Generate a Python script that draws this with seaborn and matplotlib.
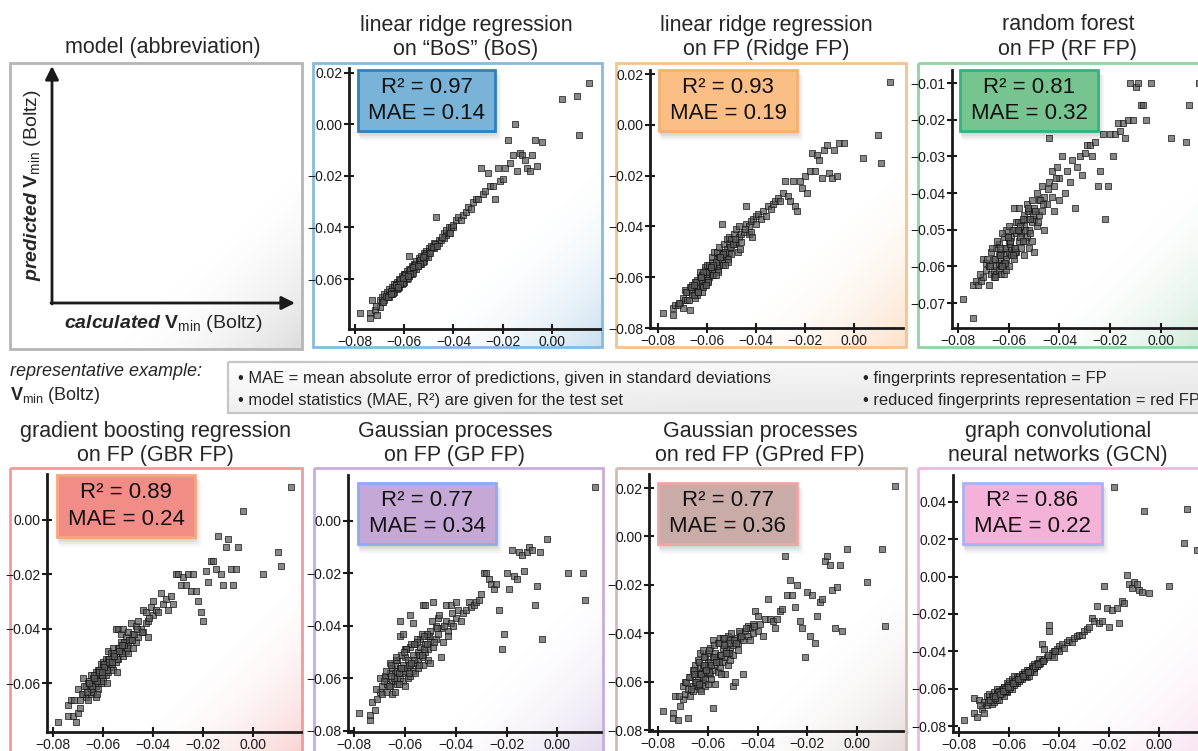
import numpy as np
import pandas as pd
import matplotlib
matplotlib.use("Agg")
import matplotlib.pyplot as plt
import matplotlib.patches as mpatches
from matplotlib.colors import to_rgb
import seaborn as sns

sns.set_theme(style="white")
plt.rcParams['font.family'] = ['Liberation Sans', 'DejaVu Sans']
plt.rcParams['mathtext.fontset'] = 'custom'
plt.rcParams['mathtext.rm'] = 'Liberation Sans'
plt.rcParams['mathtext.it'] = 'Liberation Sans:italic'
plt.rcParams['mathtext.bf'] = 'Liberation Sans:bold'
try:
    plt.rcParams['mathtext.bfit'] = 'Liberation Sans:bold:italic'
    BFIT = True
except KeyError:
    BFIT = False

# ---------------- data (values in units of 1e-3) ----------------
calc = [-78, -74, -74, -73, -72, -71, -70, -70, -69, -69,
        -68, -68, -67, -67, -66, -66, -66, -65, -65, -65,
        -64, -64, -64, -64, -63, -63, -63, -63, -62, -62,
        -62, -62, -61, -61, -61, -61, -60, -60, -60, -60,
        -59, -59, -59, -58, -58, -58, -58, -57, -57, -57,
        -56, -56, -56, -55, -55, -55, -54, -54, -54, -53,
        -53, -53, -52, -52, -52, -51, -51, -51, -50, -50,
        -50, -49, -49, -48, -48, -47, -47, -46, -46, -45,
        -44, -44, -43, -43, -42, -42, -41, -40, -40, -39,
        -38, -37, -36, -35, -34, -33, -32, -31, -30, -29,
        -28, -27, -26, -25, -24, -23, -22, -21, -20, -19,
        -18, -17, -16, -15, -14, -13, -12, -11, -10, -9,
        -8, -7, -6, -4, 4, 10, 11, 15,
        -71.5, -68.5, -67.5, -66.5, -65.5, -64.5, -63.5, -62.5, -61.5, -60.5,
        -59.5, -58.5, -57.5, -56.5, -55.5, -54.5, -53.5, -52.5, -51.5, -50.5,
        -65.5, -63.5, -61.5, -59.5, -57.5, -55.5, -53.5, -51.5, -49.5, -47.5,
        -62.5, -60.5, -58.5, -56.5, -54.5, -52.5, -48.5, -46.5, -44.5, -41.5]

pred_bos = [-73, -73, -75, -68, -72, -74, -71, -68, -69, -67,
            -68, -66, -67, -65, -66, -64, -67, -65, -63, -66,
            -64, -62, -65, -63, -63, -61, -64, -62, -62, -60,
            -63, -61, -61, -60, -62, -59, -60, -58, -61, -59,
            -59, -57, -60, -58, -56, -59, -51, -57, -55, -58,
            -56, -54, -55, -55, -53, -56, -54, -52, -53, -53,
            -51, -54, -52, -50, -53, -51, -49, -50, -50, -48,
            -49, -48, -47, -48, -46, -47, -36, -46, -45, -45,
            -44, -42, -43, -41, -42, -40, -40, -40, -39, -37,
            -36, -37, -35, -34, -32, -33, -30, -29, -29, -17,
            -27, -26, -19, -24, -24, -29, -17, -22, -21, -17,
            -6, -15, -12, 0, -18, -11, -12, -14, -17, -18,
            -12, -6, -16, -7, 10, 11, -4, 16,
            -70.5, -69, -66.5, -67, -64.5, -65.5, -62, -63.5, -60.5, -61.5,
            -58, -59.5, -56.5, -57.5, -54.5, -55, -52.5, -53.5, -50.5, -51.5,
            -66, -62.5, -62, -58.5, -58, -54.5, -54, -50.5, -50, -46.5,
            -63, -59.5, -59, -55.5, -55, -51.5, -47.5, -47, -43.5, -42]

pred_ridge = [-74, -72, -75, -71, -71, -70, -72, -68, -69, -65,
              -69, -66, -73, -64, -67, -63, -65, -66, -62, -68,
              -65, -61, -63, -67, -62, -64, -60, -58, -63, -66,
              -59, -61, -61, -57, -63, -56, -60, -58, -55, -62,
              -58, -55, -60, -57, -54, -52, -59, -55, -50, -57,
              -53, -56, -50, -52, -55, -48, -51, -54, -39, -50,
              -53, -47, -49, -52, -45, -50, -47, -44, -48, -51,
              -45, -47, -43, -46, -41, -44, -40, -46, -43, -42,
              -32, -39, -43, -40, -38, -42, -37, -39, -36, -35,
              -37, -34, -36, -32, -33, -31, -30, -29, -30, -27,
              -22, -28, -30, -22, -32, -34, -22, -25, -20, -27,
              -18, -11, -18, -12, -14, -21, -10, -8, -19, -21,
              -10, -20, -7, -7, -13, -4, -15, 17,
              -70, -66, -69, -64, -67, -62, -66, -60, -64, -58,
              -61, -56, -59, -54, -57, -52, -55, -50, -53, -48,
              -63, -66, -58, -62, -55, -58, -51, -54, -47, -50,
              -60, -63, -56, -59, -52, -55, -45, -49, -41, -44]

pred_rf = [-69, -74, -65, -64, -65, -64, -58, -63, -59, -61,
           -60, -65, -62, -56, -61, -58, -63, -60, -55, -62,
           -57, -61, -59, -54, -62, -56, -60, -58, -52, -62,
           -57, -59, -55, -61, -50, -58, -56, -53, -60, -49,
           -57, -52, -55, -44, -55, -50, -58, -51, -48, -56,
           -50, -53, -44, -55, -48, -51, -46, -57, -49, -43,
           -52, -47, -50, -45, -55, -48, -42, -53, -44, -47,
           -56, -40, -49, -42, -46, -38, -45, -41, -50, -43,
           -25, -37, -41, -34, -45, -38, -33, -42, -36, -30,
           -40, -34, -37, -31, -44, -33, -30, -35, -29, -27,
           -27, -30, -26, -38, -34, -24, -47, -38, -24, -30,
           -24, -21, -23, -21, -25, -20, -10, -20, -11, -10,
           -16, -16, -20, -10, -25, -26, -16, -10,
           -62, -58, -60, -55, -58, -53, -57, -51, -55, -52,
           -54, -50, -56, -48, -52, -47, -50, -45, -51, -46,
           -63, -55, -59, -53, -55, -49, -53, -47, -45, -42,
           -60, -52, -57, -50, -53, -44, -48, -43, -39, -36]

pred_gbr = [-74, -72, -68, -66, -72, -74, -71, -62, -69, -66,
            -58, -64, -65, -61, -63, -60, -66, -62, -57, -64,
            -60, -63, -58, -62, -56, -61, -59, -65, -57, -60,
            -62, -55, -58, -60, -53, -56, -57, -59, -52, -54,
            -55, -51, -57, -53, -48, -56, -51, -54, -49, -52,
            -50, -47, -55, -40, -49, -52, -47, -40, -51, -45,
            -48, -42, -50, -46, -40, -48, -45, -43, -49, -41,
            -46, -44, -38, -47, -42, -39, -45, -37, -43, -40,
            -41, -33, -38, -34, -37, -43, -32, -35, -30, -33,
            -34, -27, -31, -29, -33, -28, -31, -20, -20, -24,
            -21, -24, -20, -26, -20, -26, -30, -34, -37, -19,
            -23, -15, -15, -18, -6, -20, -24, -10, -7, -18,
            -24, -18, -10, 3, -20, -12, -17, 12,
            -66, -64, -61, -63, -59, -61, -57, -59, -55, -57,
            -53, -55, -51, -53, -49, -51, -47, -49, -45, -47,
            -60, -58, -56, -54, -52, -50, -48, -46, -44, -42,
            -64, -56, -60, -52, -56, -46, -44, -40, -41, -36]

pred_gp = [-73, -76, -74, -69, -72, -68, -65, -60, -66, -63,
           -60, -59, -65, -62, -54, -58, -63, -56, -61, -66,
           -58, -55, -61, -65, -53, -60, -57, -62, -38, -56,
           -60, -44, -43, -58, -55, -61, -52, -57, -63, -49,
           -56, -60, -53, -36, -48, -55, -59, -39, -51, -57,
           -54, -47, -58, -50, -53, -56, -45, -51, -48, -32,
           -52, -55, -32, -47, -50, -44, -53, -49, -42, -46,
           -54, -31, -48, -40, -45, -43, -37, -52, -41, -46,
           -32, -38, -42, -44, -32, -39, -40, -31, -37, -34,
           -38, -35, -34, -31, -33, -32, -31, -30, -28, -20,
           -20, -22, -24, -26, -24, -34, -49, -43, -20, -26,
           -11, -21, -22, -12, -13, -19, -12, -10, -11, -32,
           -25, -12, -45, -7, -20, -20, -30, 13,
           -64, -61, -57, -63, -55, -60, -53, -58, -51, -56,
           -49, -55, -47, -53, -45, -51, -43, -49, -47, -44,
           -59, -52, -56, -49, -54, -46, -51, -43, -38, -41,
           -62, -50, -58, -47, -55, -44, -46, -36, -40, -35]

pred_gpred = [-72, -73, -75, -66, -76, -70, -67, -62, -65, -60,
              -75, -63, -66, -58, -62, -55, -64, -60, -53, -57,
              -62, -56, -51, -59, -63, -54, -57, -48, -60, -53,
              -58, -47, -56, -62, -50, -59, -54, -48, -52, -61,
              -57, -46, -52, -71, -50, -55, -43, -53, -48, -61,
              -44, -51, -56, -42, -49, -54, -46, -52, -42, -57,
              -44, -50, -48, -53, -41, -46, -51, -43, -45, -62,
              -49, -42, -60, -44, -47, -40, -42, -43, -57, -39,
              -41, -37, -43, -38, -40, -36, -31, -39, -33, -36,
              -41, -34, -26, -34, -35, -38, -34, -31, -30, -8,
              -24, -18, -24, -29, -20, -35, -38, -50, -23, -41,
              -24, -44, -33, -27, -26, -10, -8, -12, -22, -38,
              -21, -12, -39, -5, -19, -5, -37, 21,
              -66, -60, -58, -63, -55, -60, -52, -57, -50, -55,
              -47, -53, -45, -51, -44, -49, -42, -47, -44, -40,
              -57, -61, -53, -56, -50, -52, -45, -48, -43, -39,
              -64, -55, -59, -52, -57, -48, -44, -41, -38, -37]

pred_gcn = [-77, -73, -65, -75, -66, -71, -73, -67, -69, -64,
            -66, -63, -68, -64, -65, -62, -67, -63, -60, -66,
            -64, -61, -62, -66, -62, -60, -63, -61, -59, -64,
            -61, -59, -60, -62, -57, -61, -59, -58, -60, -56,
            -58, -55, -60, -57, -56, -58, -53, -56, -54, -57,
            -55, -53, -56, -52, -54, -55, -51, -53, -52, -50,
            -52, -54, -50, -51, -53, -48, -50, -49, -47, -51,
            -49, -46, -48, -44, -47, -36, -45, -39, -44, -43,
            -26, -29, -42, -41, -40, -43, -39, -37, -40, -36,
            -38, -35, -34, -35, -33, -32, -31, -31, -29, -28,
            -27, -22, -24, -16, -25, -24, -5, -17, -27, -18,
            48, -17, -25, -13, -14, 1, -4, -6, -3, -4,
            -7, -8, 35, -9, -5, 18, 36, 14,
            -69, -67, -66, -64, -65, -62, -63, -60, -61, -58,
            -59, -57, -57, -55, -55, -53, -53, -51, -51, -49,
            -64, -63, -60, -59, -56, -55, -52, -51, -48, -46,
            -61, -59, -57, -55, -53, -51, -47, -45, -42, -40]

model_titles = [("linear ridge regression", "on \u201cBoS\u201d (BoS)"),
                ("linear ridge regression", "on FP (Ridge FP)"),
                ("random forest", "on FP (RF FP)"),
                ("gradient boosting regression", "on FP (GBR FP)"),
                ("Gaussian processes", "on FP (GP FP)"),
                ("Gaussian processes", "on red FP (GPred FP)"),
                ("graph convolutional", "neural networks (GCN)")]
r2_values = ["0.97", "0.93", "0.81", "0.89", "0.77", "0.77", "0.86"]
mae_values = ["0.14", "0.19", "0.32", "0.24", "0.34", "0.36", "0.22"]
predictions = [pred_bos, pred_ridge, pred_rf, pred_gbr, pred_gp, pred_gpred, pred_gcn]

x_ticks = [-0.08, -0.06, -0.04, -0.02, 0.00]
y_ticks = [[0.02, 0.00, -0.02, -0.04, -0.06],
           [0.02, 0.00, -0.02, -0.04, -0.06, -0.08],
           [-0.01, -0.02, -0.03, -0.04, -0.05, -0.06, -0.07],
           [0.00, -0.02, -0.04, -0.06],
           [0.00, -0.02, -0.04, -0.06, -0.08],
           [0.02, 0.00, -0.02, -0.04, -0.06, -0.08],
           [0.04, 0.02, 0.00, -0.02, -0.04, -0.06, -0.08]]

bullets_left = ["\u2022 MAE = mean absolute error of predictions, given in standard deviations",
                "\u2022 model statistics (MAE, R\u00b2) are given for the test set"]
bullets_right = ["\u2022 fingerprints representation = FP",
                 "\u2022 reduced fingerprints representation = red FP"]

for p in predictions:
    assert len(p) == len(calc)

# ---------------- layout / style ----------------
W, H = 1198, 751
fig = plt.figure(figsize=(W / 100, H / 100), dpi=100)
fig.patch.set_facecolor("white")

def fig_rect(l, t, r, b):
    return [l / W, 1 - b / H, (r - l) / W, (b - t) / H]

bg = fig.add_axes([0, 0, 1, 1], zorder=0)
bg.set_xlim(0, W); bg.set_ylim(H, 0); bg.axis("off")

frames = [(313, 63, 602, 347), (616, 63, 906, 347), (918, 63, 1215, 347),
          (10, 468, 302, 760), (314, 468, 603, 760), (616, 468, 906, 760), (918, 468, 1215, 760)]
frame_cols = ["#86bbdf", "#f8c28d", "#93d3a3", "#f19a9a", "#c9abdd", "#d5bcb5", "#f2b6df"]
grad_cols = ["#5b9fd0", "#f5a25a", "#5cb87a", "#ee7070", "#a886cc", "#a88a84", "#ec9cd4"]
box_fill = ["#79b3d7", "#fbbf86", "#76c590", "#f28c86", "#c5a8d6", "#c9aca7", "#f4b2d8"]
box_edge = ["#2f80bf", "#f6b070", "#2fb482", "#f7a77e", "#90a8f5", "#f2a5a5", "#a9b2f2"]
boxes = [(358, 70, 495, 131), (659, 70, 797, 131), (960, 70, 1098, 131),
         (57, 475, 195, 537), (358, 483, 496, 544), (658, 483, 797, 544), (963, 483, 1102, 544)]
title_pos = [(466, 25, 49), (766, 25, 49), (1068, 25, 49),
             (155, 431, 455), (455, 431, 455), (760, 431, 455), (1058, 431, 455)]
ax_rects = [(349, 68, 600, 329), (650, 70, 903, 328), (952, 70, 1205, 328),
            (47, 474, 301, 732), (348, 475, 601, 732), (649, 474, 903, 731), (953, 475, 1206, 732)]
xlims = [(-0.0824, 0.0195), (-0.0833, 0.0202), (-0.0824, 0.0174), (-0.0824, 0.0192),
         (-0.0825, 0.0172), (-0.0835, 0.0183), (-0.0824, 0.0188)]
ylims = [(-0.0794, 0.0219), (-0.0800, 0.0216), (-0.0768, -0.00645), (-0.0778, 0.0167),
         (-0.0804, 0.0174), (-0.0804, 0.0258), (-0.0832, 0.0544)]


def corner_gradient(x0, y0, x1, y1, color, strength=0.32):
    n = 160
    u = np.linspace(0, 1, n)[None, :]
    v = np.linspace(0, 1, n)[:, None]
    a = np.clip((u + v - 1.3) / 0.7, 0, 1) ** 1.8 * strength
    img = np.zeros((n, n, 4))
    img[..., :3] = to_rgb(color)
    img[..., 3] = a
    bg.imshow(img, extent=(x0, x1, y1, y0), origin="upper", aspect="auto",
              interpolation="bilinear", zorder=0.5)


# schematic panel
corner_gradient(10, 63, 302, 349, "#8c8c8c", 0.3)
bg.add_patch(mpatches.Rectangle((10, 63), 292, 286, fill=False, ec="#b5b5b5", lw=2, zorder=1))
bg.text(163, 47, "model (abbreviation)", ha="center", va="center", fontsize=15.5)
bg.annotate("", xy=(52, 66), xytext=(52, 304),
            arrowprops=dict(arrowstyle="-|>", lw=2, color="k", mutation_scale=20, shrinkA=0, shrinkB=0))
bg.annotate("", xy=(295, 303), xytext=(51, 303),
            arrowprops=dict(arrowstyle="-|>", lw=2, color="k", mutation_scale=20, shrinkA=0, shrinkB=0))
if BFIT:
    lab_x = r"$\mathbfit{calculated}\ \mathbf{V}_{\mathrm{min}}$ (Boltz)"
    lab_y = r"$\mathbfit{predicted}\ \mathbf{V}_{\mathrm{min}}$ (Boltz)"
else:
    lab_x = r"$\mathbf{calculated\ V}_{\mathrm{min}}$ (Boltz)"
    lab_y = r"$\mathbf{predicted\ V}_{\mathrm{min}}$ (Boltz)"
bg.text(164, 323, lab_x, ha="center", va="center", fontsize=14)
bg.text(33, 185, lab_y, ha="center", va="center", fontsize=14, rotation=90)

# representative example + info box
bg.text(10, 372, "representative example:", ha="left", va="center", fontsize=13, style="italic")
bg.text(10, 395, r"$\mathbf{V}_{\mathrm{min}}$ (Boltz)", ha="left", va="center", fontsize=13)
n = 200
gu = np.linspace(0, 1, n)[None, :]
gv = np.linspace(0, 1, n)[:, None]
shade = 1 - 0.08 * np.clip((gu * 0.6 + gv * 0.8), 0, 1)
gimg = np.repeat(shade[..., None], 3, axis=2)
bg.imshow(gimg, extent=(228, 1215, 413, 362), origin="upper", aspect="auto", zorder=0.5)
bg.add_patch(mpatches.Rectangle((228, 362), 987, 51, fill=False, ec="#c6c6c6", lw=1.6, zorder=1))
for i, s in enumerate(bullets_left):
    bg.text(238, 379 + 22 * i, s, ha="left", va="center", fontsize=11.9)
for i, s in enumerate(bullets_right):
    bg.text(863, 379 + 22 * i, s, ha="left", va="center", fontsize=11.9)

# model panels
for k in range(7):
    x0, y0, x1, y1 = frames[k]
    corner_gradient(x0, y0, x1, y1, grad_cols[k])
    bg.add_patch(mpatches.Rectangle((x0, y0), x1 - x0, y1 - y0, fill=False,
                                    ec=frame_cols[k], lw=2, zorder=1))
    tx, ty1, ty2 = title_pos[k]
    bg.text(tx, ty1, model_titles[k][0], ha="center", va="center", fontsize=15.5)
    bg.text(tx, ty2, model_titles[k][1], ha="center", va="center", fontsize=15.5)

bg.set_xlim(0, W); bg.set_ylim(H, 0)

def fmt(v):
    s = "%.2f" % abs(v)
    return ("\u2212" + s) if v < -1e-9 else s

for k in range(7):
    ax = fig.add_axes(fig_rect(*ax_rects[k]), zorder=2)
    ax.patch.set_alpha(0)
    df = pd.DataFrame({"calculated": np.array(calc) / 1000.0,
                       "predicted": np.array(predictions[k]) / 1000.0})
    sns.scatterplot(data=df, x="calculated", y="predicted", ax=ax, marker="s", s=24,
                    color="#5a5a5a", edgecolor="#151515", linewidth=0.7, alpha=0.72,
                    legend=False, zorder=3)
    ax.set_xlim(*xlims[k]); ax.set_ylim(*ylims[k])
    ax.set_xticks(x_ticks); ax.set_xticklabels([fmt(v) for v in x_ticks])
    ax.set_yticks(y_ticks[k]); ax.set_yticklabels([fmt(v) for v in y_ticks[k]])
    ax.set_xlabel(""); ax.set_ylabel("")
    for sp in ("top", "right"):
        ax.spines[sp].set_visible(False)
    for sp in ("left", "bottom"):
        ax.spines[sp].set_visible(True)
        ax.spines[sp].set_color("k")
        ax.spines[sp].set_linewidth(2)
    ax.tick_params(axis="both", direction="inout", length=7, width=1.5, colors="k",
                   labelsize=10, pad=1.0, left=True, bottom=True)
    ax.grid(False)

# statistic boxes on top
fg = fig.add_axes([0, 0, 1, 1], zorder=5)
fg.set_xlim(0, W); fg.set_ylim(H, 0); fg.axis("off"); fg.patch.set_alpha(0)
for k in range(7):
    bx0, by0, bx1, by1 = boxes[k]
    for d, a in [(8, 0.035), (6, 0.05), (4, 0.07), (2, 0.08)]:
        fg.add_patch(mpatches.FancyBboxPatch((bx0 - 1 + d * 0.3, by0 + d * 0.6), bx1 - bx0 + d * 0.6,
                                             by1 - by0 + d * 0.6, boxstyle="round,pad=0,rounding_size=3",
                                             fc="k", ec="none", alpha=a, zorder=1))
    fg.add_patch(mpatches.Rectangle((bx0, by0), bx1 - bx0, by1 - by0, fc=box_fill[k],
                                    ec=box_edge[k], lw=2, zorder=2))
    cx = (bx0 + bx1) / 2
    h = by1 - by0
    fg.text(cx, by0 + h * 0.29, "R\u00b2 = " + r2_values[k], ha="center", va="center",
            fontsize=16, zorder=3, color="#111111")
    fg.text(cx, by0 + h * 0.72, "MAE = " + mae_values[k], ha="center", va="center",
            fontsize=16, zorder=3, color="#111111")

fig.savefig("out.png", dpi=100)
